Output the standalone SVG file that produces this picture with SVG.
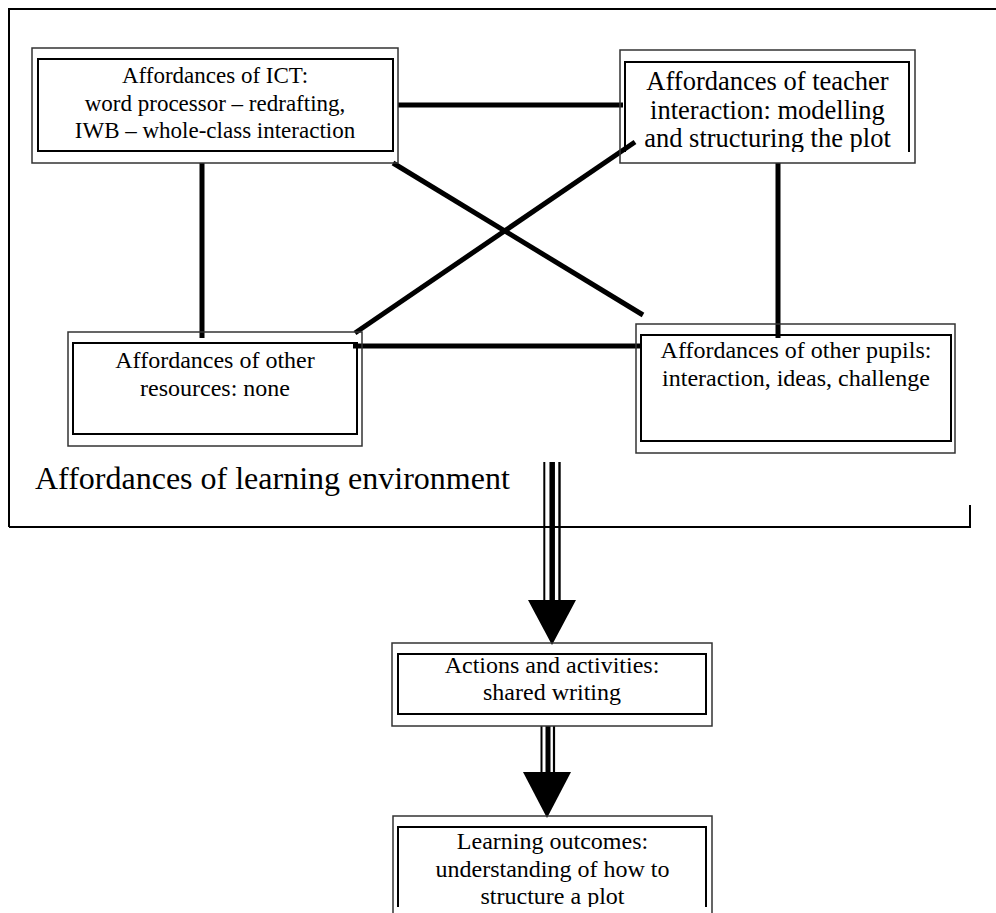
<svg xmlns="http://www.w3.org/2000/svg" width="996" height="913" viewBox="0 0 996 913">
<style>
.outer{fill:none;stroke:#333;stroke-width:1.5}
.inner{fill:none;stroke:#000;stroke-width:2}
.conn{stroke:#000;stroke-width:5;fill:none}
.t{font-family:"Liberation Serif","Times New Roman",serif;fill:#000;text-anchor:middle}
.sh{stroke:#000;fill:none}
</style>
<defs>
<clipPath id="clipT"><rect x="600" y="0" width="340" height="152"/></clipPath>
<clipPath id="clipL"><rect x="380" y="800" width="360" height="107"/></clipPath>
</defs>
<rect width="996" height="913" fill="#fff"/>
<g id="frame">
<path d="M9 527 V9 H996 M9 527 H970 V505" fill="none" stroke="#000" stroke-width="2"/>
</g>
<g id="connectors">
<line class="conn" x1="398" y1="105" x2="623" y2="105"/>
<line class="conn" x1="202" y1="163" x2="202" y2="338"/>
<line class="conn" x1="778" y1="163" x2="778" y2="338"/>
<line class="conn" x1="393" y1="163" x2="643" y2="315"/>
<line class="conn" x1="635" y1="142" x2="355" y2="333"/>
<line class="conn" x1="353" y1="346" x2="641" y2="346"/>
<g id="arrow1">
<line class="sh" x1="544.3" y1="462" x2="544.3" y2="601" stroke-width="2"/>
<line class="sh" x1="552.2" y1="462" x2="552.2" y2="601" stroke-width="5.5"/>
<line class="sh" x1="559.5" y1="462" x2="559.5" y2="601" stroke-width="2.4"/>
<polygon points="528,600 576,600 552,645" fill="#000"/>
</g>
<g id="arrow2">
<line class="sh" x1="541.5" y1="726" x2="541.5" y2="773" stroke-width="2"/>
<line class="sh" x1="548" y1="726" x2="548" y2="773" stroke-width="5"/>
<line class="sh" x1="554" y1="726" x2="554" y2="773" stroke-width="2.2"/>
<polygon points="523,772 571,772 547,818" fill="#000"/>
</g>
</g>
<g id="ict">
<rect class="outer" x="32" y="48" width="366" height="115"/>
<rect class="inner" x="38" y="59" width="355" height="92"/>
<text class="t" x="215" y="83" font-size="23">Affordances of ICT:</text>
<text class="t" x="215" y="110.5" font-size="23">word processor – redrafting,</text>
<text class="t" x="215" y="138" font-size="23">IWB – whole-class interaction</text>
</g>
<g id="teacher">
<rect class="outer" x="620" y="50" width="295" height="113"/>
<path class="inner" d="M625 152 V62 H909 V152"/>
<g clip-path="url(#clipT)">
<text class="t" x="767.5" y="90" font-size="26.5">Affordances of teacher</text>
<text class="t" x="767.5" y="118.5" font-size="26.5">interaction: modelling</text>
<text class="t" x="767.5" y="147" font-size="26.5">and structuring the plot</text>
</g>
</g>
<g id="resources">
<rect class="outer" x="68" y="332" width="294" height="114"/>
<rect class="inner" x="73" y="343" width="284" height="91"/>
<text class="t" x="215" y="368" font-size="24">Affordances of other</text>
<text class="t" x="215" y="396" font-size="24">resources: none</text>
</g>
<g id="pupils">
<rect class="outer" x="636" y="324" width="319" height="129"/>
<rect class="inner" x="641" y="335" width="310" height="106"/>
<text class="t" x="796" y="358" font-size="24">Affordances of other pupils:</text>
<text class="t" x="796" y="386" font-size="24">interaction, ideas, challenge</text>
</g>
<g id="env-label">
<text x="35" y="489" font-size="32" font-family="Liberation Serif, Times New Roman, serif" fill="#000">Affordances of learning environment</text>
</g>
<g id="actions">
<rect class="outer" x="392" y="643" width="320" height="83"/>
<rect class="inner" x="398" y="654" width="308" height="60"/>
<text class="t" x="552" y="673" font-size="24">Actions and activities:</text>
<text class="t" x="552" y="700" font-size="24">shared writing</text>
</g>
<g id="outcomes">
<path class="outer" d="M393 914 V816 H712 V914"/>
<path class="inner" d="M398 907 V827 H706 V907"/>
<g clip-path="url(#clipL)">
<text class="t" x="552.5" y="849" font-size="24">Learning outcomes:</text>
<text class="t" x="552.5" y="877" font-size="24">understanding of how to</text>
<text class="t" x="552.5" y="904" font-size="24">structure a plot</text>
</g>
</g>
</svg>
